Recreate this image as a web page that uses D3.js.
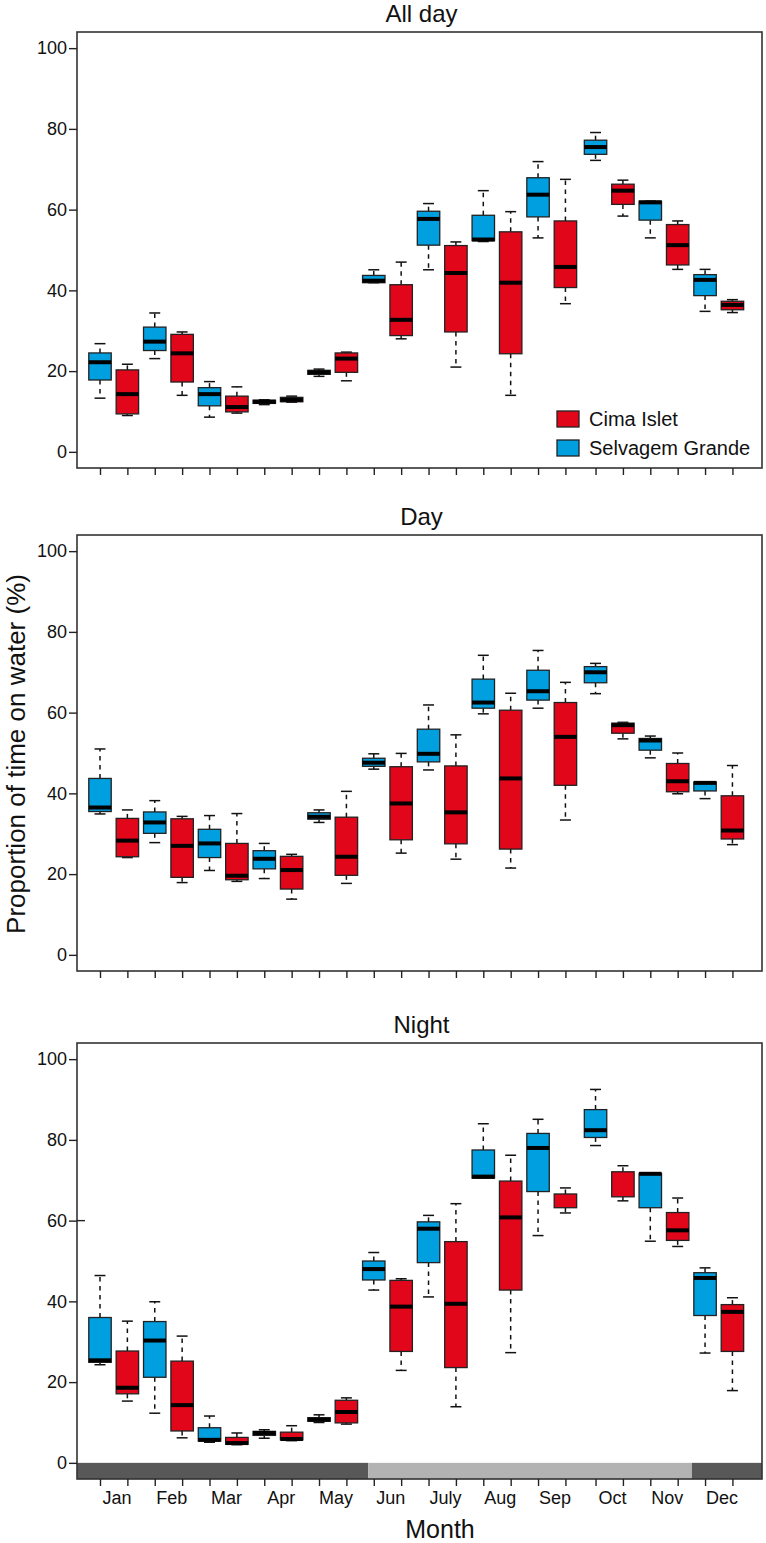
<!DOCTYPE html>
<html>
<head>
<meta charset="utf-8">
<script src="https://cdn.jsdelivr.net/npm/d3@7"></script>
<style>
  body { margin: 0; background: #fff; }
  text { font-family: "Liberation Sans", Arial, Helvetica, sans-serif; fill: #111; }
</style>
</head>
<body>
<div id="chart"></div>
<script>
// box stats per month: [low whisker, Q1, median, Q3, high whisker]
const months = ["Jan", "Feb", "Mar", "Apr", "May", "Jun", "July", "Aug", "Sep", "Oct", "Nov", "Dec"];
const seriesNames = ["Cima Islet", "Selvagem Grande"];
const panelTitles = ["All day", "Day", "Night"];
const yTicks = [0, 20, 40, 60, 80, 100];

const allDaySelvagem = [
  [13.3, 17.8, 22.2, 24.5, 26.8], [23.1, 25.1, 27.3, 30.9, 34.4], [8.6, 11.4, 14.3, 15.9, 17.4],
  [11.7, 12.0, 12.4, 12.8, 12.9], [18.7, 19.2, 19.7, 20.2, 20.5], [41.9, 41.9, 42.4, 43.7, 45.1],
  [45.1, 51.2, 57.7, 59.6, 61.5], [52.1, 52.3, 52.6, 58.6, 64.7], [53.0, 58.2, 63.7, 67.9, 71.9],
  [72.2, 73.7, 75.5, 77.2, 79.1], [53.0, 57.4, 61.8, 62.1, 62.1], [34.8, 38.7, 42.6, 43.9, 45.2]
];
const allDayCima = [
  [9.0, 9.4, 14.3, 20.3, 21.7], [14.0, 17.3, 24.4, 29.1, 29.7], [9.6, 9.9, 11.1, 13.8, 16.1],
  [12.3, 12.4, 12.9, 13.5, 13.8], [17.6, 19.7, 23.1, 24.5, 24.7], [28.0, 28.8, 32.7, 41.4, 47.0],
  [21.0, 29.7, 44.3, 51.1, 52.0], [14.0, 24.3, 41.9, 54.5, 59.5], [36.7, 40.7, 45.8, 57.2, 67.5],
  [58.4, 61.3, 64.7, 66.3, 67.3], [45.2, 46.3, 51.2, 56.3, 57.2], [34.5, 35.2, 36.4, 37.3, 37.7]
];
const daySelvagem = [
  [34.9, 35.5, 36.5, 43.7, 51.0], [27.8, 30.1, 32.8, 35.4, 38.2], [20.9, 24.1, 27.6, 31.1, 34.5],
  [18.9, 21.3, 23.8, 25.8, 27.6], [32.8, 33.6, 34.2, 35.2, 35.9], [46.0, 46.7, 47.6, 48.7, 49.8],
  [45.8, 47.8, 49.8, 55.9, 61.9], [59.7, 61.1, 62.5, 68.3, 74.2], [61.1, 63.1, 65.3, 70.5, 75.4],
  [64.7, 67.4, 70.0, 71.4, 72.2], [48.8, 50.7, 53.1, 53.6, 54.2], [38.7, 40.6, 42.6, 42.8, 42.8]
];
const dayCima = [
  [24.1, 24.3, 28.3, 33.8, 35.9], [17.9, 19.2, 27.0, 33.7, 34.3], [18.2, 18.6, 19.6, 27.6, 35.0],
  [13.8, 16.3, 21.0, 24.4, 24.9], [17.7, 19.7, 24.3, 34.1, 40.5], [25.2, 28.5, 37.5, 46.6, 49.9],
  [23.7, 27.5, 35.3, 46.8, 54.5], [21.5, 26.2, 43.7, 60.6, 64.8], [33.4, 42.0, 54.0, 62.5, 67.5],
  [53.5, 54.9, 56.9, 57.4, 57.6], [39.9, 40.4, 43.0, 47.4, 50.0], [27.3, 28.7, 30.8, 39.4, 46.9]
];
const nightSelvagem = [
  [24.3, 24.9, 25.4, 36.0, 46.4], [12.3, 21.2, 30.3, 35.0, 39.9], [5.1, 5.4, 5.7, 8.7, 11.6],
  [6.1, 6.8, 7.4, 7.8, 8.2], [10.0, 10.3, 10.7, 11.2, 11.9], [42.8, 45.3, 48.0, 50.0, 52.1],
  [41.1, 49.6, 58.0, 59.7, 61.3], [70.5, 70.5, 70.9, 77.5, 84.0], [56.3, 67.2, 78.0, 81.6, 85.1],
  [78.6, 80.6, 82.4, 87.5, 92.5], [54.9, 63.2, 71.6, 71.7, 71.7], [27.2, 36.5, 45.8, 47.1, 48.3]
];
const nightCima = [
  [15.3, 17.1, 18.6, 27.7, 35.1], [6.2, 7.9, 14.3, 25.2, 31.4], [4.5, 4.6, 4.9, 6.3, 7.4],
  [5.5, 5.7, 5.9, 7.6, 9.2], [9.6, 9.9, 12.6, 15.5, 16.1], [22.9, 27.6, 38.7, 45.2, 45.6],
  [13.9, 23.6, 39.4, 54.8, 64.2], [27.3, 42.8, 60.8, 69.8, 76.2], [61.9, 63.2, null, 66.6, 68.1],
  [64.9, 65.9, null, 72.1, 73.6], [53.6, 55.1, 57.6, 62.0, 65.6], [17.9, 27.6, 37.4, 39.2, 40.9]
];

// season shading along the bottom of the night panel (in box-position units)
const seasonBreaks = [10.8, 22.62];

const panelData = [
  { selvagem: allDaySelvagem, cima: allDayCima },
  { selvagem: daySelvagem, cima: dayCima },
  { selvagem: nightSelvagem, cima: nightCima }
];

const colors = { cima: "#e2061b", selvagem: "#009fe0" };

const width = 766;
const height = 1543;
const left = 77;
const right = 762;
const panelTops = [32, 535, 1043];
const panelHeight = 436;

const svg = d3.select("#chart").append("svg").attr("width", width).attr("height", height);

const x = d3.scaleLinear().domain([0.16, 25.18]).range([left, right]);

function boxPos(m, s) {
  // s = 0 for Selvagem Grande (left), 1 for Cima Islet (right); small gap after Sep
  return 2 * m + 1 + s + (m >= 9 ? 0.1 : 0);
}

const boxW = x(0.82) - x(0);
const capW = x(0.4) - x(0);

let rows = [];
months.forEach(function (m, i) {
  rows.push({ month: i, s: 0, key: "selvagem" });
  rows.push({ month: i, s: 1, key: "cima" });
});

panelData.forEach(function (pd, p) {
  const top = panelTops[p];
  const y = d3.scaleLinear().domain([-4, 104]).range([top + panelHeight, top]);
  const g = svg.append("g");

  // grey season bar on the night panel
  if (p === 2) {
    const edges = [x.domain()[0], seasonBreaks[0], seasonBreaks[1], x.domain()[1]];
    const fills = ["#585858", "#b3b3b3", "#585858"];
    for (let k = 0; k < 3; k++) {
      g.append("rect")
        .attr("x", x(edges[k]))
        .attr("y", y(0))
        .attr("width", x(edges[k + 1]) - x(edges[k]))
        .attr("height", y(-4) - y(0))
        .attr("fill", fills[k]);
    }
  }

  const boxes = g
    .selectAll(".box")
    .data(rows)
    .enter()
    .append("g")
    .attr("class", "box")
    .attr("transform", function (d) {
      return "translate(" + x(boxPos(d.month, d.s)) + ",0)";
    });

  // whiskers
  boxes
    .append("line")
    .attr("y1", function (d) { return y(pd[d.key][d.month][3]); })
    .attr("y2", function (d) { return y(pd[d.key][d.month][4]); })
    .attr("stroke", "#111")
    .attr("stroke-width", 1.5)
    .attr("stroke-dasharray", "4.5,4.5");
  boxes
    .append("line")
    .attr("y1", function (d) { return y(pd[d.key][d.month][1]); })
    .attr("y2", function (d) { return y(pd[d.key][d.month][0]); })
    .attr("stroke", "#111")
    .attr("stroke-width", 1.5)
    .attr("stroke-dasharray", "4.5,4.5");
  [0, 4].forEach(function (j) {
    boxes
      .append("line")
      .attr("x1", -capW / 2)
      .attr("x2", capW / 2)
      .attr("y1", function (d) { return y(pd[d.key][d.month][j]); })
      .attr("y2", function (d) { return y(pd[d.key][d.month][j]); })
      .attr("stroke", "#111")
      .attr("stroke-width", 1.5);
  });

  boxes
    .append("rect")
    .attr("x", -boxW / 2)
    .attr("width", boxW)
    .attr("y", function (d) { return y(pd[d.key][d.month][3]); })
    .attr("height", function (d) {
      return y(pd[d.key][d.month][1]) - y(pd[d.key][d.month][3]);
    })
    .attr("fill", function (d) { return colors[d.key]; })
    .attr("stroke", "#222")
    .attr("stroke-width", 1.3);

  boxes
    .filter(function (d) { return pd[d.key][d.month][2] !== null; })
    .append("line")
    .attr("x1", -boxW / 2)
    .attr("x2", boxW / 2)
    .attr("y1", function (d) { return y(pd[d.key][d.month][2]); })
    .attr("y2", function (d) { return y(pd[d.key][d.month][2]); })
    .attr("stroke", "#000")
    .attr("stroke-width", 4);

  // frame
  g.append("rect")
    .attr("x", left)
    .attr("y", top)
    .attr("width", right - left)
    .attr("height", panelHeight)
    .attr("fill", "none")
    .attr("stroke", "#333")
    .attr("stroke-width", 1.6);

  const yAxis = g
    .append("g")
    .attr("transform", "translate(" + left + ",0)")
    .call(d3.axisLeft(y).tickValues(yTicks).tickSize(8).tickPadding(2));
  yAxis.select(".domain").remove();
  yAxis.selectAll("line").attr("stroke", "#222").attr("stroke-width", 1.4);
  yAxis.selectAll("text").style("font-size", "18px").attr("fill", "#111");

  if (p === 2) {
    g.append("line")
      .attr("x1", left)
      .attr("x2", left + 8)
      .attr("y1", y(60))
      .attr("y2", y(60))
      .attr("stroke", "#222")
      .attr("stroke-width", 1.4);
  }

  const xAxis = g
    .append("g")
    .attr("transform", "translate(0," + (top + panelHeight) + ")")
    .call(
      d3.axisBottom(x)
        .tickValues(rows.map(function (d) { return boxPos(d.month, d.s); }))
        .tickSize(7)
        .tickFormat("")
    );
  xAxis.select(".domain").remove();
  xAxis.selectAll("line").attr("stroke", "#222").attr("stroke-width", 1.4);

  g.append("text")
    .attr("x", (left + right) / 2 + 2)
    .attr("y", top - 10)
    .attr("text-anchor", "middle")
    .style("font-size", "24px")
    .text(panelTitles[p]);

  if (p === 2) {
    g.selectAll(".month")
      .data(months)
      .enter()
      .append("text")
      .attr("class", "month")
      .attr("x", function (d, i) { return x(boxPos(i, 0) + 0.62); })
      .attr("y", top + panelHeight + 25)
      .attr("text-anchor", "middle")
      .style("font-size", "18px")
      .text(function (d) { return d; });
  }
});

// axis titles
svg.append("text")
  .attr("x", 440)
  .attr("y", 1538)
  .attr("text-anchor", "middle")
  .style("font-size", "25px")
  .text("Month");

svg.append("text")
  .attr("transform", "translate(25,754) rotate(-90)")
  .attr("text-anchor", "middle")
  .style("font-size", "26px")
  .text("Proportion of time on water (%)");

// legend (top panel)
const legendItems = [
  { name: seriesNames[0], key: "cima" },
  { name: seriesNames[1], key: "selvagem" }
];
const legend = svg
  .append("g")
  .attr("transform", "translate(557,411)")
  .selectAll(".legends")
  .data(legendItems)
  .enter()
  .append("g")
  .attr("class", "legends")
  .attr("transform", function (d, i) {
    return "translate(0," + i * 29 + ")";
  });

legend
  .append("rect")
  .attr("width", 22)
  .attr("height", 16)
  .attr("fill", function (d) { return colors[d.key]; })
  .attr("stroke", "#222")
  .attr("stroke-width", 1.3);

legend
  .append("text")
  .attr("x", 32)
  .attr("y", 14.5)
  .style("font-size", "20px")
  .text(function (d) { return d.name; });
</script>
</body>
</html>
